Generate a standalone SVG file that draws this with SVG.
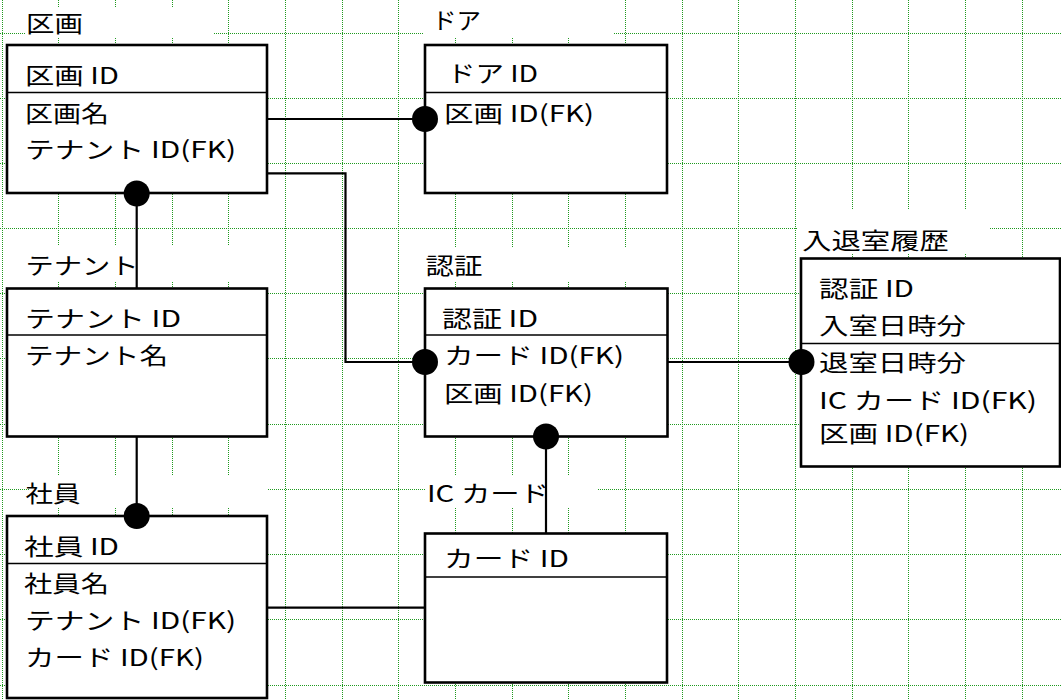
<svg xmlns="http://www.w3.org/2000/svg" width="1061" height="700" viewBox="0 0 1061 700">
<style>
.grid line{stroke:#1f9a1f;stroke-width:1;stroke-dasharray:1 1}
.box{fill:#fff;stroke:#000;stroke-width:2.6}
.div{stroke:#000;stroke-width:1.6}
.lbg{fill:#fff;stroke:none}
text{font-family:"Noto Sans CJK JP","Noto Sans CJK SC",sans-serif;font-size:23px;fill:#000}
.conn line,.conn polyline{stroke:#000;stroke-width:2.2;fill:none}
.conn circle{fill:#000}
</style>
<rect width="1061" height="700" fill="#fff"/>
<g class="grid">
<line x1="2.5" y1="0" x2="2.5" y2="700"/><line x1="58.5" y1="0" x2="58.5" y2="700"/><line x1="115.5" y1="0" x2="115.5" y2="700"/><line x1="172.5" y1="0" x2="172.5" y2="700"/><line x1="228.5" y1="0" x2="228.5" y2="700"/><line x1="285.5" y1="0" x2="285.5" y2="700"/><line x1="342.5" y1="0" x2="342.5" y2="700"/><line x1="398.5" y1="0" x2="398.5" y2="700"/><line x1="455.5" y1="0" x2="455.5" y2="700"/><line x1="512.5" y1="0" x2="512.5" y2="700"/><line x1="568.5" y1="0" x2="568.5" y2="700"/><line x1="625.5" y1="0" x2="625.5" y2="700"/><line x1="682.5" y1="0" x2="682.5" y2="700"/><line x1="738.5" y1="0" x2="738.5" y2="700"/><line x1="795.5" y1="0" x2="795.5" y2="700"/><line x1="852.5" y1="0" x2="852.5" y2="700"/><line x1="908.5" y1="0" x2="908.5" y2="700"/><line x1="965.5" y1="0" x2="965.5" y2="700"/><line x1="1022.5" y1="0" x2="1022.5" y2="700"/>
<line x1="0" y1="33.5" x2="1061" y2="33.5"/><line x1="0" y1="98.5" x2="1061" y2="98.5"/><line x1="0" y1="163.5" x2="1061" y2="163.5"/><line x1="0" y1="228.5" x2="1061" y2="228.5"/><line x1="0" y1="293.5" x2="1061" y2="293.5"/><line x1="0" y1="358.5" x2="1061" y2="358.5"/><line x1="0" y1="424.5" x2="1061" y2="424.5"/><line x1="0" y1="489.5" x2="1061" y2="489.5"/><line x1="0" y1="554.5" x2="1061" y2="554.5"/><line x1="0" y1="619.5" x2="1061" y2="619.5"/><line x1="0" y1="685.5" x2="1061" y2="685.5"/>
</g>
<g id="kukaku">
<rect class="lbg" x="25" y="7" width="188" height="31"/>
<text x="26" y="31.5" textLength="57" lengthAdjust="spacingAndGlyphs">区画</text>
<rect class="box" x="7" y="45" width="260" height="148"/>
<line class="div" x1="7" y1="92.5" x2="267" y2="92.5"/>
<text x="25" y="83.5" textLength="94" lengthAdjust="spacingAndGlyphs">区画 ID</text>
<text x="25" y="122" textLength="84" lengthAdjust="spacingAndGlyphs">区画名</text>
<text x="25" y="158" textLength="211" lengthAdjust="spacingAndGlyphs">テナント ID(FK)</text>
</g>
<g id="door">
<rect class="lbg" x="423" y="0" width="190" height="38"/>
<text x="432" y="29" textLength="49" lengthAdjust="spacingAndGlyphs">ドア</text>
<rect class="box" x="425" y="45" width="242" height="148"/>
<line class="div" x1="425" y1="92.5" x2="667" y2="92.5"/>
<text x="447" y="81.5" textLength="91" lengthAdjust="spacingAndGlyphs">ドア ID</text>
<text x="444" y="121.5" textLength="150" lengthAdjust="spacingAndGlyphs">区画 ID(FK)</text>
</g>
<g id="tenant">
<rect class="lbg" x="25" y="245" width="225" height="37"/>
<text x="25.5" y="273.5" textLength="113" lengthAdjust="spacingAndGlyphs">テナント</text>
<rect class="box" x="7" y="288.5" width="260" height="148"/>
<line class="div" x1="7" y1="335" x2="267" y2="335"/>
<text x="25" y="326.5" textLength="156" lengthAdjust="spacingAndGlyphs">テナント ID</text>
<text x="25" y="363.5" textLength="143" lengthAdjust="spacingAndGlyphs">テナント名</text>
</g>
<g id="ninsho">
<rect class="lbg" x="425" y="247" width="240" height="35"/>
<text x="425.5" y="273.5" textLength="57" lengthAdjust="spacingAndGlyphs">認証</text>
<rect class="box" x="425" y="288.5" width="242.5" height="148"/>
<line class="div" x1="425" y1="335" x2="667.5" y2="335"/>
<text x="442" y="327" textLength="96" lengthAdjust="spacingAndGlyphs">認証 ID</text>
<text x="444" y="363.5" textLength="180" lengthAdjust="spacingAndGlyphs">カード ID(FK)</text>
<text x="444" y="401.5" textLength="149" lengthAdjust="spacingAndGlyphs">区画 ID(FK)</text>
</g>
<g id="nyutaishitsu">
<rect class="lbg" x="797" y="210" width="193" height="43"/>
<text x="802" y="248.5" textLength="147" lengthAdjust="spacingAndGlyphs">入退室履歴</text>
<rect class="box" x="801" y="258.5" width="259" height="208"/>
<line class="div" x1="801" y1="343.5" x2="1060" y2="343.5"/>
<text x="819" y="296.5" textLength="95" lengthAdjust="spacingAndGlyphs">認証 ID</text>
<text x="819" y="333.5" textLength="147" lengthAdjust="spacingAndGlyphs">入室日時分</text>
<text x="819" y="371" textLength="147" lengthAdjust="spacingAndGlyphs">退室日時分</text>
<text x="819" y="408.5" textLength="218" lengthAdjust="spacingAndGlyphs">IC カード ID(FK)</text>
<text x="819" y="441.5" textLength="150" lengthAdjust="spacingAndGlyphs">区画 ID(FK)</text>
</g>
<g id="shain">
<rect class="lbg" x="30" y="475" width="237" height="33"/>
<text x="25.5" y="501.5" textLength="55" lengthAdjust="spacingAndGlyphs">社員</text>
<rect class="box" x="7" y="516" width="260" height="182"/>
<line class="div" x1="7" y1="563.5" x2="267" y2="563.5"/>
<text x="24" y="555" textLength="95" lengthAdjust="spacingAndGlyphs">社員 ID</text>
<text x="24" y="591.5" textLength="85" lengthAdjust="spacingAndGlyphs">社員名</text>
<text x="25" y="628.5" textLength="211" lengthAdjust="spacingAndGlyphs">テナント ID(FK)</text>
<text x="25" y="665.5" textLength="179" lengthAdjust="spacingAndGlyphs">カード ID(FK)</text>
</g>
<g id="iccard">
<rect class="lbg" x="425" y="475" width="173" height="33"/>
<text x="427" y="501.5" textLength="122" lengthAdjust="spacingAndGlyphs">IC カード</text>
<rect class="box" x="425" y="533.5" width="242" height="149"/>
<line class="div" x1="425" y1="577" x2="667" y2="577"/>
<text x="444" y="566.5" textLength="125" lengthAdjust="spacingAndGlyphs">カード ID</text>
</g>
<g class="conn" id="connectors">
<line x1="267" y1="119" x2="425" y2="119"/>
<circle cx="425" cy="119" r="13"/>
<polyline points="267,173.3 345.5,173.3 345.5,362 425,362"/>
<circle cx="425" cy="362" r="13"/>
<line x1="136.7" y1="193.5" x2="136.7" y2="288.5"/>
<circle cx="136.7" cy="193.5" r="13"/>
<line x1="136.7" y1="436.5" x2="136.7" y2="516"/>
<circle cx="136.7" cy="516" r="13"/>
<line x1="667.5" y1="362" x2="801" y2="362"/>
<circle cx="801.5" cy="362" r="13"/>
<line x1="546" y1="436.5" x2="546" y2="533.5"/>
<circle cx="546" cy="436.5" r="13"/>
<line x1="267" y1="607.7" x2="425" y2="607.7"/>
</g>
</svg>
